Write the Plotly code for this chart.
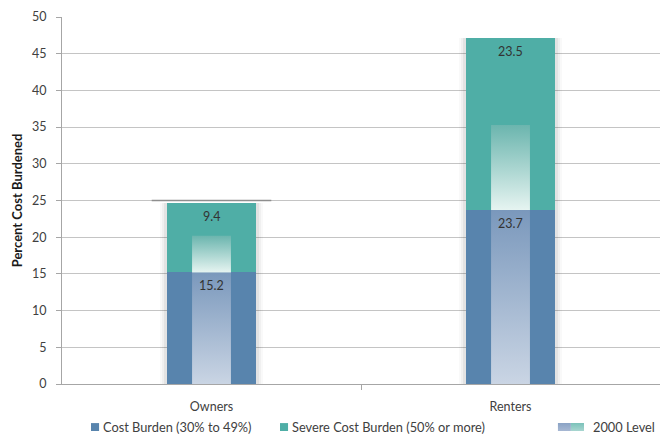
import plotly.graph_objects as go

categories = ["Owners", "Renters"]
cost_burden = [15.2, 23.7]
severe_burden = [9.4, 23.5]
cost_burden_2000 = [15.2, 23.7]
total_2000 = [20.2, 35.3]
y_ticks = [0, 5, 10, 15, 20, 25, 30, 35, 40, 45, 50]

BLUE = "#5884AD"
TEAL = "#4FAEA6"
BLUE_TOP, BLUE_BOT = "#7A98BC", "#CAD5E4"
TEAL_TOP, TEAL_BOT = "#6BB5AE", "#E6F4F1"
TXT = "#404040"
FONT = "Lato"

BAR_W = 0.30
IN_W = 0.13
xs = list(range(len(categories)))
totals = [a + b for a, b in zip(cost_burden, severe_burden)]

fig = go.Figure()
# soft shadow behind the bars
for w, a in [(0.345, 0.025), (0.33, 0.035), (0.315, 0.05)]:
    fig.add_trace(go.Bar(x=xs, y=totals, width=w, marker=dict(color=f"rgba(0,0,0,{a})", line=dict(width=0)),
                         showlegend=False, hoverinfo="skip"))
fig.add_trace(go.Bar(x=xs, y=cost_burden, width=BAR_W, marker=dict(color=BLUE, line=dict(width=0)),
                     name="Cost Burden (30% to 49%)", showlegend=False, hoverinfo="skip"))
fig.add_trace(go.Bar(x=xs, y=severe_burden, base=cost_burden, width=BAR_W,
                     marker=dict(color=TEAL, line=dict(width=0)),
                     name="Severe Cost Burden (50% or more)", showlegend=False, hoverinfo="skip"))


def rect(x0, x1, y0, y1, top, bot, xa="x", ya="y", orient="vertical"):
    return go.Scatter(x=[x0, x1, x1, x0, x0], y=[y0, y0, y1, y1, y0], mode="lines",
                      line=dict(width=0), fill="toself",
                      fillgradient=dict(type=orient, colorscale=[[0, bot], [1, top]]),
                      xaxis=xa, yaxis=ya, showlegend=False, hoverinfo="skip")


for i in xs:
    fig.add_trace(rect(i - IN_W / 2, i + IN_W / 2, 0, cost_burden_2000[i], BLUE_TOP, BLUE_BOT))
    fig.add_trace(rect(i - IN_W / 2, i + IN_W / 2, cost_burden_2000[i], total_2000[i], TEAL_TOP, TEAL_BOT))

annotations = []
for i in xs:
    annotations.append(dict(x=i, y=cost_burden[i], text=f"{cost_burden[i]:.1f}", showarrow=False,
                            yanchor="top", yshift=-4, font=dict(family=FONT, size=12.5, color="#333333")))
    annotations.append(dict(x=i, y=totals[i], text=f"{severe_burden[i]:.1f}",
                            showarrow=False, yanchor="top", yshift=-4,
                            font=dict(family=FONT, size=12.5, color="#333333")))

# Legend (manual)
leg_y0, leg_y1 = 0.0095, 0.0285
leg_mid = (leg_y0 + leg_y1) / 2
legend_items = [(0.0485, BLUE, "Cost Burden (30% to 49%)"), (0.3645, TEAL, "Severe Cost Burden (50% or more)")]
shapes = [dict(type="line", xref="x", yref="y", x0=-0.2, x1=0.2, y0=y_ticks[5], y1=y_ticks[5],
               line=dict(color="#8E8E8E", width=1.5), layer="above")]
for x0, col, label in legend_items:
    shapes.append(dict(type="rect", xref="paper", yref="paper", x0=x0, x1=x0 + 0.0135, y0=leg_y0, y1=leg_y1,
                       fillcolor=col, line=dict(width=0)))
    annotations.append(dict(xref="paper", yref="paper", x=x0 + 0.0175, y=leg_mid, text=label,
                            showarrow=False, xanchor="left", yanchor="middle",
                            font=dict(family=FONT, size=12.8, color=TXT)))
annotations.append(dict(xref="paper", yref="paper", x=0.884, y=leg_mid, text="2000 Level",
                        showarrow=False, xanchor="left", yanchor="middle",
                        font=dict(family=FONT, size=12.8, color=TXT)))
fig.add_trace(rect(0, 1, 0, 1, "#8AA3C5", "#A7B8D3", xa="x2", ya="y2"))
fig.add_trace(rect(1, 2, 0, 1, "#7CC2BA", "#A8D6D0", xa="x2", ya="y2"))

fig.update_layout(
    width=665, height=435,
    margin=dict(l=62, r=5, t=17, b=0),
    paper_bgcolor="white", plot_bgcolor="white",
    barmode="overlay", bargap=0,
    showlegend=False,
    font=dict(family=FONT, size=12, color=TXT),
    xaxis=dict(domain=[0, 1], range=[-0.5, 1.5], tickvals=xs, ticktext=categories, ticks="",
               automargin=False,
               showline=True, linecolor="#A6A6A6", linewidth=1, showgrid=False, zeroline=False,
               ticklabelstandoff=11, tickfont=dict(family=FONT, size=12.5, color=TXT),
               minor=dict(tickmode="array", tickvals=[0.5], ticks="outside", ticklen=5, tickcolor="#A6A6A6")),
    yaxis=dict(domain=[0.122, 1], range=[0, 50], tickvals=y_ticks, ticks="outside", ticklen=5,
               automargin=False,
               tickcolor="#A6A6A6", showline=True, linecolor="#A6A6A6", linewidth=1,
               showgrid=True, gridcolor="#C4C4C4", gridwidth=1, zeroline=False,
               ticklabelstandoff=7, tickfont=dict(family=FONT, size=12.5, color=TXT),
               title=dict(text="<b>Percent Cost Burdened</b>", standoff=6,
                          font=dict(family=FONT, size=13, color="#1a1a1a"))),
    xaxis2=dict(domain=[0.829, 0.873], range=[0, 2], visible=False, fixedrange=True, automargin=False),
    yaxis2=dict(domain=[leg_y0, leg_y1], range=[0, 1], visible=False, fixedrange=True, automargin=False),
    shapes=shapes,
    annotations=annotations,
)

fig.write_html("out.html", config={"displayModeBar": False},
               post_script="document.body.style.margin='0';")
